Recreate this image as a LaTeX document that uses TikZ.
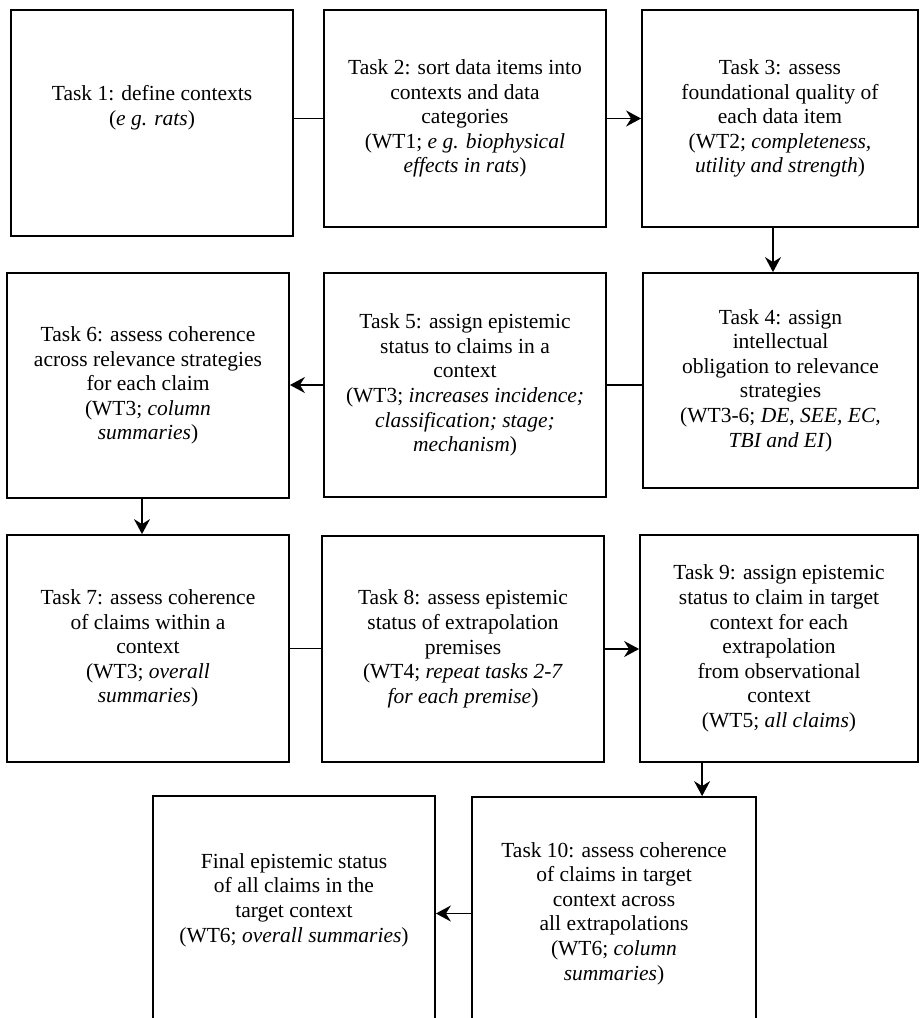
\documentclass[tikz,border=0pt]{standalone}
\usepackage{fontspec}
\setmainfont{Liberation Serif}
\usetikzlibrary{arrows.meta}
\tikzset{
  box/.style={draw, line width=1.8pt, align=center, inner sep=0pt,
    font=\fontsize{21.5}{24.6}\selectfont},
  link/.style={line width=1.6pt},
  arr/.style={line width=1.6pt, -{Stealth[length=15pt,width=16pt,inset=5pt]}}
}
\begin{document}
\begin{tikzpicture}[x=1pt,y=-1pt]
\useasboundingbox (0,0) rectangle (920,1018);
\clip (0,0) rectangle (920,1018);
% row 1
\node[box, minimum width=282pt, minimum height=226pt] (b1) at (152,123)
  {Task 1: define contexts\\(\textit{e g. rats})\\[10pt]};
\node[box, minimum width=282pt, minimum height=217pt] (b2) at (465,118.5)
  {Task 2: sort data items into\\contexts and data\\categories\\(WT1; \textit{e g. biophysical}\\\textit{effects in rats})};
\node[box, minimum width=276pt, minimum height=217pt] (b3) at (780,118.5)
  {Task 3: assess\\foundational quality of\\each data item\\(WT2; \textit{completeness,}\\\textit{utility and strength})};
% row 2
\node[box, minimum width=282pt, minimum height=225pt] (b6) at (148,385.5)
  {Task 6: assess coherence\\across relevance strategies\\for each claim\\(WT3; \textit{column}\\\textit{summaries})};
\node[box, minimum width=282pt, minimum height=224pt] (b5) at (465,385)
  {Task 5: assign epistemic\\status to claims in a\\context\\(WT3; \textit{increases incidence;}\\\textit{classification; stage;}\\\textit{mechanism})};
\node[box, minimum width=275pt, minimum height=215pt] (b4) at (780.5,380.5)
  {Task 4: assign\\intellectual\\obligation to relevance\\strategies\\(WT3-6; \textit{DE, SEE, EC,}\\\textit{TBI and EI})};
% row 3
\node[box, minimum width=282pt, minimum height=227pt] (b7) at (148,648.5)
  {Task 7: assess coherence\\of claims within a\\context\\(WT3; \textit{overall}\\\textit{summaries})};
\node[box, minimum width=282pt, minimum height=226pt] (b8) at (463,649)
  {Task 8: assess epistemic\\status of extrapolation\\premises\\(WT4; \textit{repeat tasks 2-7}\\\textit{for each premise})};
\node[box, minimum width=278pt, minimum height=227pt] (b9) at (779,648.5)
  {Task 9: assign epistemic\\status to claim in target\\context for each\\extrapolation\\from observational\\context\\(WT5; \textit{all claims})};
% row 4
\node[box, minimum width=282pt, minimum height=234pt] (fin) at (294,913)
  {Final epistemic status\\of all claims in the\\target context\\(WT6; \textit{overall summaries})\\[6pt]};
\node[box, minimum width=284pt, minimum height=233pt] (b10) at (614,913.5)
  {Task 10: assess coherence\\of claims in target\\context across\\all extrapolations\\(WT6; \textit{column}\\\textit{summaries})};
% connectors
\draw[link] (b1.east |- b2.west) -- (b2.west);
\draw[arr] (b2.east) -- (b3.west |- b2.east);
\draw[arr] ([xshift=-7pt]b3.south) -- ([xshift=-7pt]b3.south |- b4.north);
\draw[link] (b4.west |- b5.east) -- (b5.east);
\draw[arr] (b5.west) -- (b6.east |- b5.west);
\draw[arr] ([xshift=-6pt]b6.south) -- ([xshift=-6pt]b6.south |- b7.north);
\draw[link] (b7.east) -- (b8.west |- b7.east);
\draw[arr] (b8.east) -- (b9.west |- b8.east);
\draw[arr] ([xshift=63pt]b9.south west) -- ([xshift=63pt]b9.south west |- b10.north);
\draw[arr] (b10.west) -- (fin.east |- b10.west);
\end{tikzpicture}
\end{document}
